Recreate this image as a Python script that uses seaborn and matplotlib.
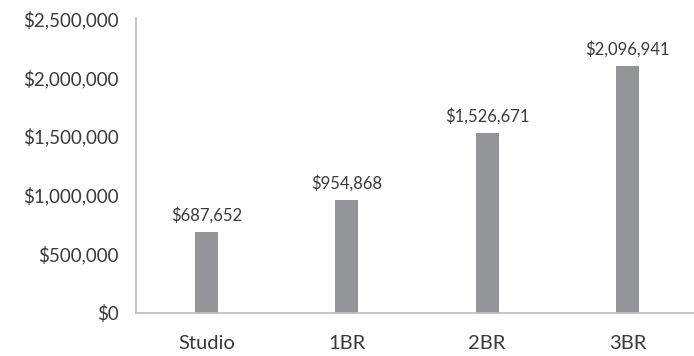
import matplotlib
matplotlib.use("Agg")
import matplotlib.pyplot as plt
import seaborn as sns
import pandas as pd
from matplotlib.ticker import FuncFormatter, MultipleLocator

categories = ["Studio", "1BR", "2BR", "3BR"]
values = [687652, 954868, 1526671, 2096941]

df = pd.DataFrame({"unit": categories, "price": values})

sns.set_style("white")
plt.rcParams["font.family"] = ["Lato", "DejaVu Sans"]

text_color = "#3a3a3a"
axis_color = "#bfbfbf"
bar_color = "#939598"

fig = plt.figure(figsize=(6.94, 3.56), dpi=100)
W, H = 694, 356
left, right = 136.4, 697.6
bottom, top = 312.7, 18.3
ax = fig.add_axes([left / W, (H - bottom) / H, (right - left) / W, (bottom - top) / H])

sns.barplot(data=df, x="unit", y="price", color=bar_color, width=0.165,
            saturation=1, ax=ax, edgecolor="none")

ax.set_ylim(0, 2500000)
ax.set_xlim(-0.5, 3.5)
ax.yaxis.set_major_locator(MultipleLocator(500000))
ax.yaxis.set_major_formatter(FuncFormatter(lambda v, p: f"${v:,.0f}"))
ax.set_xlabel("")
ax.set_ylabel("")

for s in ["top", "right"]:
    ax.spines[s].set_visible(False)
for s in ["left", "bottom"]:
    ax.spines[s].set_color(axis_color)
    ax.spines[s].set_linewidth(1.3)

ax.set_xticks([-0.5, 0.5, 1.5, 2.5, 3.5], minor=True)
ax.tick_params(axis="x", which="major", length=0, pad=16, labelsize=14.5, labelcolor=text_color)
ax.tick_params(axis="x", which="minor", length=5, width=1.3, color=axis_color)
ax.tick_params(axis="y", length=3.5, width=1.3, color=axis_color, pad=9.5,
               labelsize=13.5, labelcolor=text_color)

for i, v in enumerate(values):
    ax.annotate(f"${v:,}", (i, v), xytext=(0, 6), textcoords="offset points",
                ha="center", va="bottom", fontsize=12, color=text_color)

fig.savefig("out.png", dpi=100)
